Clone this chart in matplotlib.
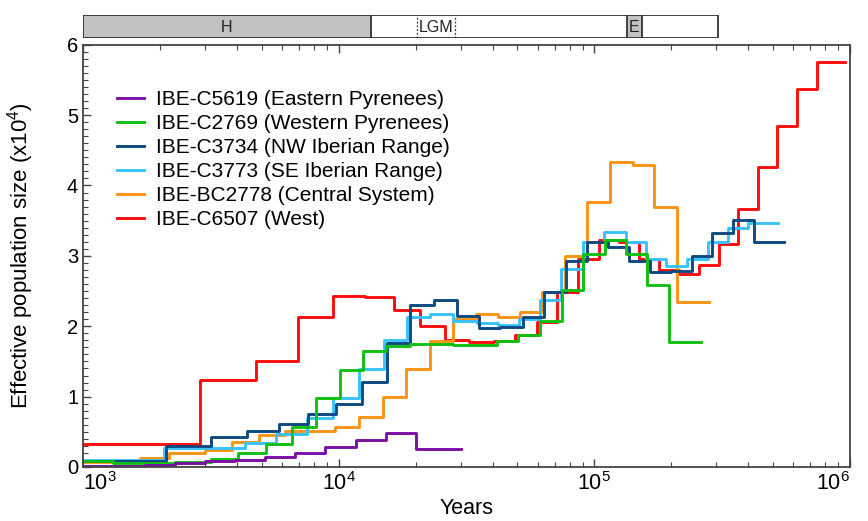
import numpy as np
import matplotlib
matplotlib.use('Agg')
import matplotlib.pyplot as plt
from matplotlib.patches import Rectangle
from matplotlib.ticker import LogLocator, MultipleLocator

plt.rcParams['font.family'] = ['Liberation Sans', 'DejaVu Sans']
plt.rcParams['mathtext.default'] = 'regular'

# step edges (years) and effective population size (x10^4) per interval
t_c5619 = [1000, 1748, 2291, 3000, 3930, 5150, 6750, 8880, 11640, 15300, 20000, 30000]
v_c5619 = [0.02, 0.035, 0.05, 0.08, 0.10, 0.14, 0.20, 0.28, 0.39, 0.49, 0.25]

t_c2769 = [1000, 1310, 2300, 3180, 4040, 5184, 6570, 8150, 10120, 12480, 15300, 19000,
           28060, 41500, 50500, 61300, 74700, 90700, 110400, 133000, 161100, 196400, 260600]
v_c2769 = [0.085, 0.05, 0.075, 0.12, 0.20, 0.33, 0.57, 0.98, 1.38, 1.65, 1.72, 1.75,
           1.73, 1.79, 1.875, 2.08, 2.52, 3.03, 3.23, 3.02, 2.585, 1.78]

t_c3734 = [1000, 2120, 3160, 4375, 5860, 7610, 9800, 12300, 15400, 19060, 23600, 29040,
           35500, 42780, 52600, 63700, 77400, 93500, 113400, 136600, 165100, 199000,
           240400, 288500, 348500, 421200, 551600]
v_c3734 = [0.085, 0.30, 0.42, 0.51, 0.61, 0.75, 0.90, 1.21, 1.76, 2.30, 2.37, 2.14,
           1.97, 1.99, 2.135, 2.48, 2.93, 3.19, 3.13, 2.92, 2.77, 2.79, 3.00, 3.33, 3.51, 3.20]

t_c3773 = [1000, 2083, 4287, 5700, 7500, 9530, 12060, 15040, 18450, 22750, 28060, 34750,
           42000, 50900, 61300, 74400, 90300, 109100, 132500, 158600, 190500, 230300,
           278400, 334200, 400000, 524000]
v_c3773 = [0.095, 0.265, 0.345, 0.47, 0.69, 0.975, 1.39, 1.80, 2.13, 2.18, 2.08, 2.04,
           2.02, 2.10, 2.37, 2.81, 3.20, 3.34, 3.19, 2.96, 2.85, 2.96, 3.19, 3.39, 3.47]

t_bc2778 = [1000, 1667, 2168, 2990, 3826, 4877, 6150, 9670, 11960, 14950, 18390, 22750,
            27990, 34600, 42110, 51160, 62650, 76740, 93500, 115200, 141300, 171600,
            209900, 281700]
v_bc2778 = [0.07, 0.13, 0.195, 0.24, 0.35, 0.46, 0.515, 0.565, 0.71, 0.99, 1.39, 1.79,
            2.10, 2.17, 2.13, 2.20, 2.48, 3.00, 3.77, 4.33, 4.29, 3.69, 2.35]

t_c6507 = [1000, 2868, 4750, 6950, 9530, 12680, 16460, 20790, 26050, 32360, 40500, 48940,
           59510, 71400, 86300, 104400, 124500, 149900, 179500, 214900, 257300, 306000,
           365400, 436400, 520500, 618800, 740800, 955000]
v_c6507 = [0.327, 1.236, 1.506, 2.135, 2.43, 2.42, 2.23, 2.00, 1.81, 1.77, 1.79, 1.875,
           2.06, 2.48, 2.96, 3.23, 3.20, 2.96, 2.80, 2.74, 2.87, 3.17, 3.66, 4.26, 4.85, 5.37, 5.76]

labels = ['IBE-C5619 (Eastern Pyrenees)', 'IBE-C2769 (Western Pyrenees)',
          'IBE-C3734 (NW Iberian Range)', 'IBE-C3773 (SE Iberian Range)',
          'IBE-BC2778 (Central System)', 'IBE-C6507 (West)']
colors = ['#7d0fa5', '#10c010', '#0d4a80', '#38c3fc', '#fb9416', '#ff0d0d']
series = [(t_c5619, v_c5619), (t_c2769, v_c2769), (t_c3734, v_c3734),
          (t_c3773, v_c3773), (t_bc2778, v_bc2778), (t_c6507, v_c6507)]

# climate periods for the top bar: (start, end)
h_period = (1000, 13380)
lgm_period = (20160, 28610)
e_period = (133700, 153900)
bar_end = 304000

fig = plt.figure(figsize=(8.68, 5.21), dpi=100)
ax = fig.add_axes([83/868, 54/521, 767/868, 422.3/521])

lines = {}
for k in range(len(series) - 1, -1, -1):
    t, v = series[k]
    yy = np.append(v, v[-1])
    ln, = ax.step(t, yy, where='post', color=colors[k], lw=2.1, label=labels[k])
    lines[k] = ln

ax.set_xscale('log')
ax.set_xlim(1e3, 1e6)
ax.set_ylim(0, 6)
ax.yaxis.set_major_locator(MultipleLocator(1))
ax.yaxis.set_minor_locator(MultipleLocator(0.1))
ax.xaxis.set_minor_locator(LogLocator(base=10, subs=np.arange(2, 10)))
ax.tick_params(which='both', direction='in', top=True, right=False,
               colors='#444444', labelcolor='black')
ax.tick_params(axis='x', labelsize=15.5)
ax.tick_params(axis='y', labelsize=14.5)
ax.tick_params(which='major', length=6, width=1)
ax.tick_params(which='minor', length=3.5, width=0.8)
for sp in ax.spines.values():
    sp.set_color('#444444')
    sp.set_linewidth(1.3)

ax.set_xlabel('Years', fontsize=15.5, labelpad=2)
ax.set_ylabel('Effective population size (x10$^4$)', fontsize=16, labelpad=22)

fig.canvas.draw()
xl = ax.get_xticklabels()
for lab in xl:
    if lab.get_position()[0] == 1e3:
        lab.set_ha('left')
    if lab.get_position()[0] == 1e6:
        lab.set_ha('right')

ax.legend([lines[k] for k in range(6)], labels, loc='upper left',
          bbox_to_anchor=(0.02, 0.937), frameon=False, fontsize=15,
          handlelength=1.3, handletextpad=0.55, labelspacing=0.24)

# top bar with climate periods
axb = fig.add_axes([83/868, (521-37.7)/521, 767/868, 22.7/521])
axb.set_xscale('log')
axb.set_xlim(1e3, 1e6)
axb.set_ylim(0, 1)
axb.axis('off')
axb.add_patch(Rectangle((h_period[0], 0), bar_end - h_period[0], 1,
                        facecolor='white', edgecolor='#333333', lw=1.3))
axb.add_patch(Rectangle((h_period[0], 0), h_period[1] - h_period[0], 1,
                        facecolor='#c0c2c4', edgecolor='#333333', lw=1.3))
axb.add_patch(Rectangle((e_period[0], 0), e_period[1] - e_period[0], 1,
                        facecolor='#c0c2c4', edgecolor='#333333', lw=1.3))
for xv in lgm_period:
    axb.plot([xv, xv], [0, 1], color='#333333', lw=0.9, ls=(0, (1.5, 1.5)))
fnar = ['Liberation Sans Narrow', 'Liberation Sans']
axb.text(np.sqrt(h_period[0] * h_period[1]), 0.45, 'H', ha='center', va='center',
         fontsize=11.5, family=fnar, color='#222222')
axb.text(np.sqrt(lgm_period[0] * lgm_period[1]), 0.45, 'LGM', ha='center', va='center',
         fontsize=11.5, family=fnar, color='#222222')
axb.text(np.sqrt(e_period[0] * e_period[1]), 0.45, 'E', ha='center', va='center',
         fontsize=11.5, family=fnar, color='#222222')

fig.savefig('out.png', dpi=100)
